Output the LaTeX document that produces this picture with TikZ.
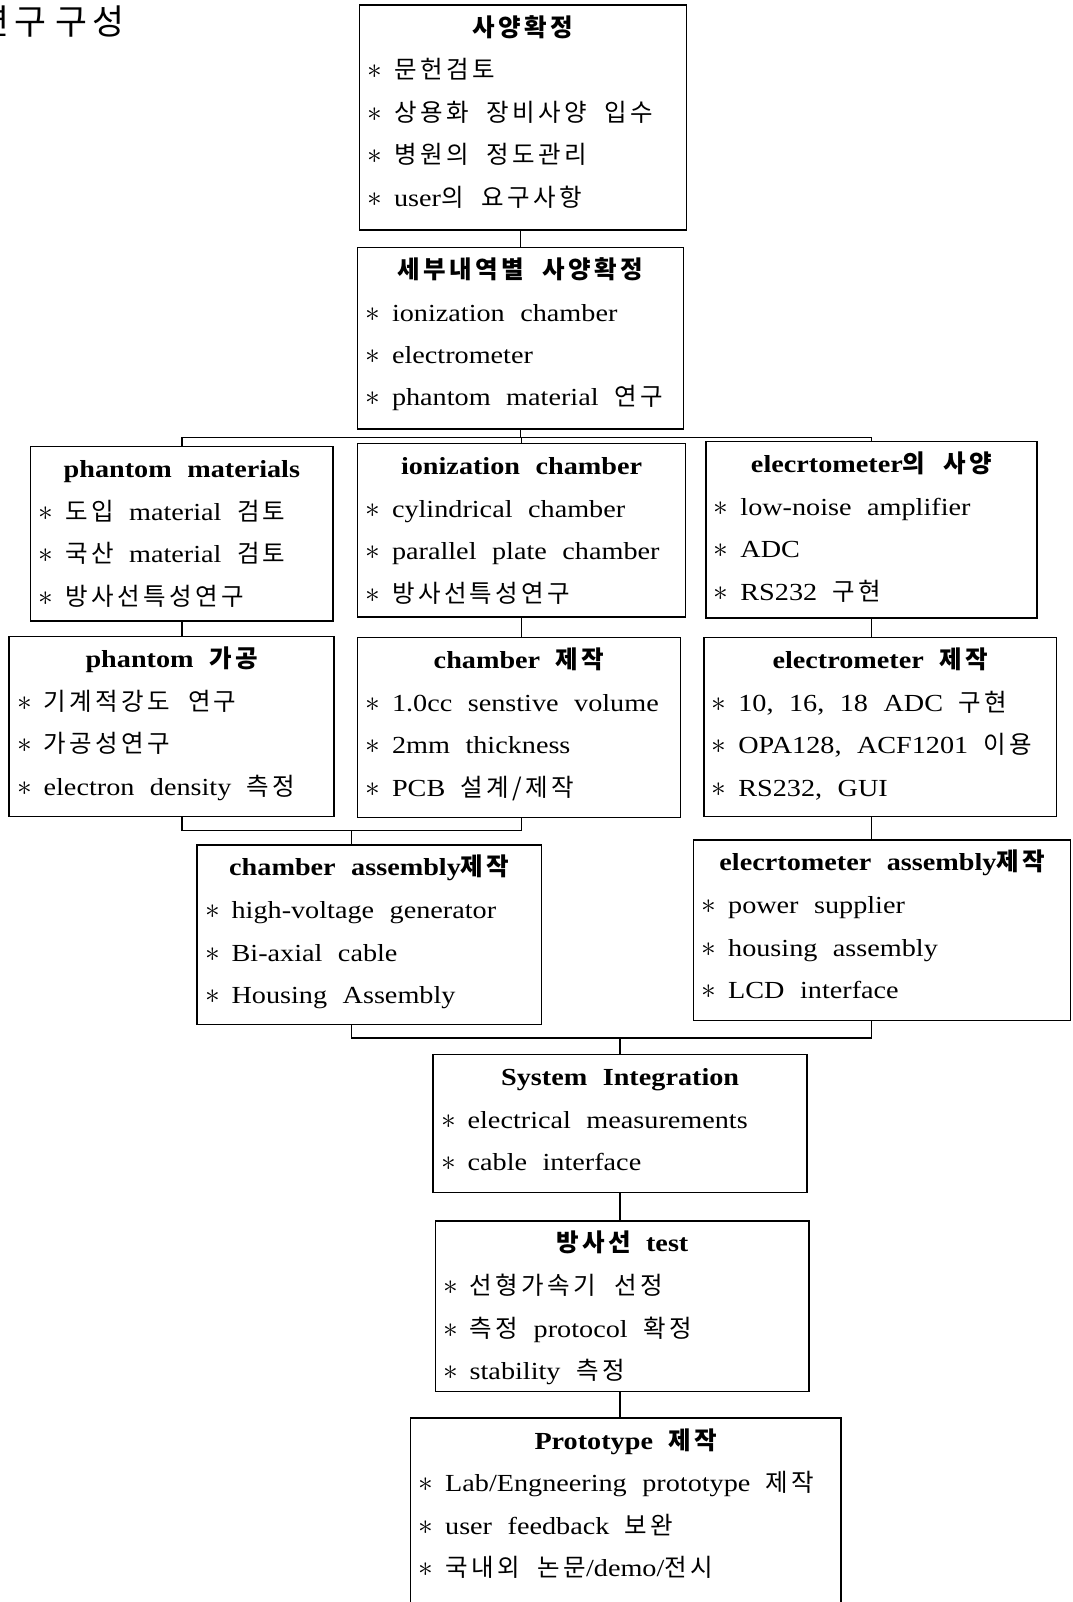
\documentclass[tikz,border=0pt]{standalone}
\usepackage{fontspec}
\setmainfont{Liberation Serif}[FakeStretch=1.15, WordSpace=2.2]
\newfontfamily\krf{Noto Sans CJK KR}[WordSpace=2, LetterSpace=14]
\newcommand\hk[1]{{\krf #1}}
\usetikzlibrary{fit,calc}
\tikzset{
 box/.style={draw, line width=0.7pt, inner sep=0pt},
 ttlstyle/.style={inner sep=0pt, font=\fontsize{12}{14}\selectfont\bfseries},
 itmstyle/.style={inner sep=0pt, font=\fontsize{12}{14}\selectfont},
 conn/.style={line width=0.7pt},
}
\newcommand\bx[6]{\node[box, fit={(#2,#3) (#4,#5)}] (#1) {};
  \node[ttlstyle, anchor=base] (#1-t) at ([yshift=-15.5pt]#1.north) {#6};}
\newcommand\itm[3]{\node[itmstyle, anchor=base west] (#1-#2) at ([xshift=4pt,yshift={-36.5pt-20.75pt*#2}]#1.north west) {\makebox[13pt][l]{\fontsize{15}{15}\selectfont$\ast$}#3};}
\begin{document}
\begin{tikzpicture}[x=0.5pt,y=-0.5pt]
\path[use as bounding box, clip] (0,0) rectangle (1050,1568);
\node[anchor=base east, inner sep=0pt] (head) at (122,34) {\fontsize{17}{20}\selectfont\hk{연구}\hspace{4.5pt}\hk{구성}};

\bx{b1}{352}{5}{672}{225}{\hk{사양확정}}
\itm{b1}{0}{\hk{문헌검토}}
\itm{b1}{1}{\hk{상용화 장비사양 입수}}
\itm{b1}{2}{\hk{병원의 정도관리}}
\itm{b1}{3}{user\hk{의 요구사항}}

\bx{b2}{350}{242}{669}{420}{\hk{세부내역별 사양확정}}
\itm{b2}{0}{ionization chamber}
\itm{b2}{1}{electrometer}
\itm{b2}{2}{phantom material \hk{연구}}

\bx{pm}{30}{437}{326}{608}{phantom materials}
\itm{pm}{0}{\hk{도입} material \hk{검토}}
\itm{pm}{1}{\hk{국산} material \hk{검토}}
\itm{pm}{2}{\hk{방사선특성연구}}

\bx{ic}{350}{434}{671}{604}{ionization chamber}
\itm{ic}{0}{cylindrical chamber}
\itm{ic}{1}{parallel plate chamber}
\itm{ic}{2}{\hk{방사선특성연구}}

\bx{ec}{691}{432}{1015}{605}{elecrtometer\hk{의 사양}}
\itm{ec}{0}{low-noise amplifier}
\itm{ec}{1}{ADC}
\itm{ec}{2}{RS232 \hk{구현}}

\bx{pg}{9}{623}{327}{799}{phantom \hk{가공}}
\itm{pg}{0}{\hk{기계적강도 연구}}
\itm{pg}{1}{\hk{가공성연구}}
\itm{pg}{2}{electron density \hk{측정}}

\bx{cm}{350}{624}{666}{800}{chamber \hk{제작}}
\itm{cm}{0}{1.0cc senstive volume}
\itm{cm}{1}{2mm thickness}
\itm{cm}{2}{PCB \hk{설계/제작}}

\bx{em}{689}{624}{1034}{799}{electrometer \hk{제작}}
\itm{em}{0}{10, 16, 18 ADC \hk{구현}}
\itm{em}{1}{OPA128, ACF1201 \hk{이용}}
\itm{em}{2}{RS232, GUI}

\bx{ca}{193}{827}{530}{1003}{chamber assembly\hk{제작}}
\itm{ca}{0}{high-voltage generator}
\itm{ca}{1}{Bi-axial cable}
\itm{ca}{2}{Housing Assembly}

\bx{ea}{679}{822}{1048}{999}{elecrtometer assembly\hk{제작}}
\itm{ea}{0}{power supplier}
\itm{ea}{1}{housing assembly}
\itm{ea}{2}{LCD interface}

\bx{si}{424}{1032}{790}{1167}{System Integration}
\itm{si}{0}{electrical measurements}
\itm{si}{1}{cable interface}

\bx{rt}{426}{1195}{792}{1362}{\hk{방사선} test}
\itm{rt}{0}{\hk{선형가속기 선정}}
\itm{rt}{1}{\hk{측정} protocol \hk{확정}}
\itm{rt}{2}{stability \hk{측정}}

\bx{pt}{402}{1388}{823}{1600}{Prototype \hk{제작}}
\itm{pt}{0}{Lab/Engneering prototype \hk{제작}}
\itm{pt}{1}{user feedback \hk{보완}}
\itm{pt}{2}{\hk{국내외 논문}/demo/\hk{전시}}

% connectors
\coordinate (bus1) at (0,428);
\coordinate (bus2) at (0,813);
\coordinate (bus3) at (0,1016);
\draw[conn] (b2.north |- b1.south) -- (b2.north);
\draw[conn] (b2.south) -- (b2.south |- bus1);
\draw[conn] (pm.north) -- (pm.north |- bus1) -- (ec.north |- bus1) -- (ec.north);
\draw[conn] (ic.north) -- (ic.north |- bus1);
\draw[conn] (pm.south) -- (pm.south |- pg.north);
\draw[conn] (ic.south) -- (ic.south |- cm.north);
\draw[conn] (ec.south) -- (ec.south |- em.north);
\draw[conn] (pm.south |- pg.south) -- (pm.south |- bus2) -- (ic.south |- bus2) -- (ic.south |- cm.south);
\coordinate (m2) at ($(pm.south |- bus2)!0.5!(ic.south |- bus2)$);
\draw[conn] (m2) -- (m2 |- ca.north);
\draw[conn] (ec.south |- em.south) -- (ec.south |- ea.north);
\draw[conn] (m2 |- ca.south) -- (m2 |- bus3) -- (ec.south |- bus3) -- (ec.south |- ea.south);
\draw[conn] (si.north |- bus3) -- (si.north);
\draw[conn] (si.south) -- (si.south |- rt.north);
\draw[conn] (si.south |- rt.south) -- (si.south |- pt.north);
\end{tikzpicture}
\end{document}
